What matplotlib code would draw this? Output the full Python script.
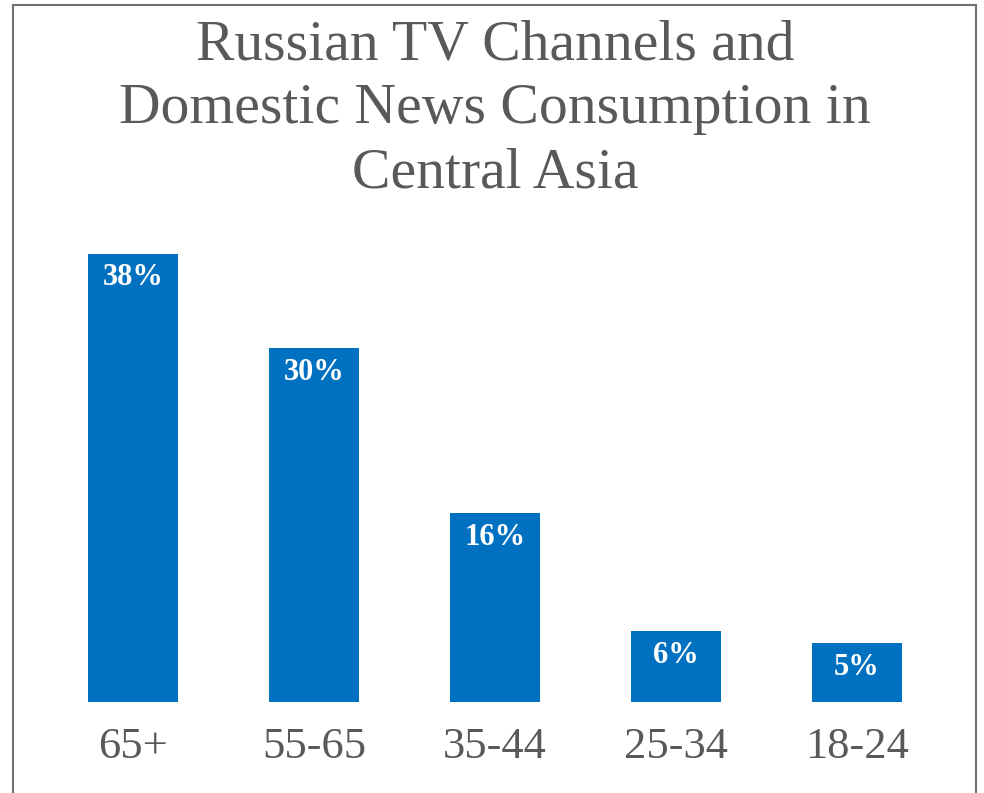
import matplotlib
matplotlib.use("Agg")
import matplotlib.pyplot as plt
from matplotlib.lines import Line2D

# Dados do gráfico
age_groups = ["65+", "55-65", "35-44", "25-34", "18-24"]
shares = [38, 30, 16, 6, 5]
value_labels = ["38%", "30%", "16%", "6%", "5%"]

title = "Russian TV Channels and\nDomestic News Consumption in\nCentral Asia"

bar_color = "#0070C0"
text_color = "#595959"
serif = ["Liberation Serif", "DejaVu Serif"]

fig = plt.figure(figsize=(9.84, 7.93), dpi=100)
ax = fig.add_axes([42.5 / 984, 91 / 793, 905 / 984, 472 / 793])

ax.bar(range(len(shares)), shares, width=0.5, color=bar_color)
ax.set_xlim(-0.5, 4.5)
ax.set_ylim(0, 40)

# Rótulos de valor dentro das barras
for i, (v, lab) in enumerate(zip(shares, value_labels)):
    ax.annotate(lab, (i, v), xytext=(0, -7), textcoords="offset points",
                ha="center", va="top", color="white", fontsize=22,
                fontweight="bold", family=serif)

ax.set_xticks(range(len(age_groups)))
ax.set_xticklabels(age_groups, family=serif, fontsize=32, color=text_color)
ax.tick_params(axis="x", length=0, pad=18)
ax.set_yticks([])
for s in ax.spines.values():
    s.set_visible(False)

fig.text(495 / 984, 1 - 109 / 793, title, ha="center", va="center",
         multialignment="center", fontsize=41.5, color=text_color,
         family=serif, linespacing=1.3)

# Moldura cinza
bx0, bx1, by1 = 12.5 / 984, 975.5 / 984, 1 - 4.5 / 793
for xs, ys in [([bx0, bx0], [0, by1]), ([bx1, bx1], [0, by1]), ([bx0, bx1], [by1, by1])]:
    fig.add_artist(Line2D(xs, ys, color="#707070", linewidth=1.5))

fig.savefig("out.png", dpi=100)
